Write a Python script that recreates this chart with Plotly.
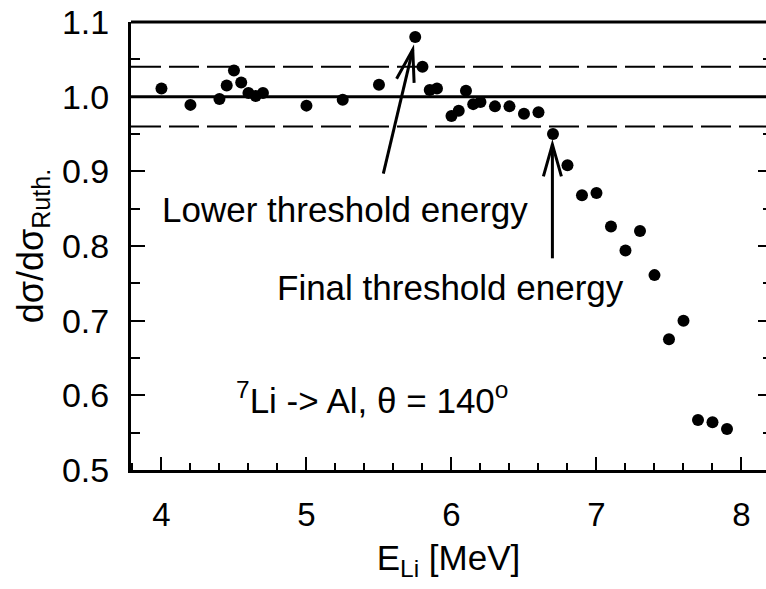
import math
import plotly.graph_objects as go

# ---- data ----
energy = [4.0, 4.2, 4.4, 4.45, 4.5, 4.55, 4.6, 4.65, 4.7, 5.0, 5.25, 5.5,
          5.75, 5.8, 5.85, 5.9, 6.0, 6.05, 6.1, 6.15, 6.2, 6.3, 6.4, 6.5,
          6.6, 6.7, 6.8, 6.9, 7.0, 7.1, 7.2, 7.3, 7.4, 7.5, 7.6, 7.7, 7.8, 7.9]
ratio = [1.011, 0.989, 0.997, 1.015, 1.035, 1.019, 1.005, 1.001, 1.005, 0.988,
         0.996, 1.016, 1.080, 1.040, 1.009, 1.011, 0.974, 0.981, 1.008, 0.990,
         0.993, 0.987, 0.987, 0.977, 0.979, 0.950, 0.908, 0.868, 0.871, 0.826,
         0.794, 0.820, 0.761, 0.675, 0.700, 0.567, 0.564, 0.555]
solid_levels = [1.0]
dashed_levels = [0.96, 1.04]

# arrows: (tail, tip) in data coordinates
lower_arrow = ((5.530, 0.897), (5.733, 1.063))
final_arrow = ((6.696, 0.7835), (6.696, 0.936))

X_RANGE = [3.79, 8.169]
Y_RANGE = [0.5, 1.1]
W, H = 766, 589
M = dict(l=131, r=0, t=22, b=119)
PW = W - M['l'] - M['r']
PH = H - M['t'] - M['b']
sx = PW / (X_RANGE[1] - X_RANGE[0])
sy = PH / (Y_RANGE[1] - Y_RANGE[0])

FONT = "Liberation Sans, Arial, Helvetica, sans-serif"

fig = go.Figure()
fig.add_trace(go.Scatter(x=energy, y=ratio, mode="markers",
                         marker=dict(size=12, color="black"),
                         showlegend=False, hoverinfo="x+y"))
# dummy trace for right-hand y axis (mirror ticks)
fig.add_trace(go.Scatter(x=[None], y=[None], yaxis="y2", showlegend=False,
                         hoverinfo="skip"))

shapes = []
for lv in solid_levels:
    shapes.append(dict(type="line", xref="paper", yref="y", x0=0, x1=1,
                       y0=lv, y1=lv, line=dict(color="black", width=3)))
for lv in dashed_levels:
    shapes.append(dict(type="line", xref="paper", yref="y", x0=0, x1=1,
                       y0=lv, y1=lv,
                       line=dict(color="black", width=2, dash="30px,8px")))
# top frame line
shapes.append(dict(type="line", xref="paper", yref="paper", x0=0, x1=1,
                   y0=1, y1=1, line=dict(color="black", width=3)))


def arrow_shapes(tail, tip, head_len=32, head_half=9, width=3):
    tx, ty = tail[0] * sx, tail[1] * sy
    hx, hy = tip[0] * sx, tip[1] * sy
    dx, dy = hx - tx, hy - ty
    L = math.hypot(dx, dy)
    ux, uy = dx / L, dy / L
    px, py = -uy, ux
    bx, by = hx - ux * head_len, hy - uy * head_len
    b1 = ((bx + px * head_half) / sx, (by + py * head_half) / sy)
    b2 = ((bx - px * head_half) / sx, (by - py * head_half) / sy)
    out = [dict(type="line", xref="x", yref="y", x0=tail[0], y0=tail[1],
                x1=tip[0], y1=tip[1], line=dict(color="black", width=width))]
    path = "M {},{} L {},{} L {},{}".format(b1[0], b1[1], tip[0], tip[1],
                                           b2[0], b2[1])
    out.append(dict(type="path", xref="x", yref="y", path=path,
                    line=dict(color="black", width=width)))
    return out


shapes += arrow_shapes(*lower_arrow)
shapes += arrow_shapes(*final_arrow)

annotations = [
    dict(x=5.266, y=0.849, xref="x", yref="y", text="Lower threshold energy",
         showarrow=False, xanchor="center", yanchor="middle",
         font=dict(size=35, color="black", family=FONT)),
    dict(x=5.99, y=0.745, xref="x", yref="y", text="Final threshold energy",
         showarrow=False, xanchor="center", yanchor="middle",
         font=dict(size=35, color="black", family=FONT)),
    dict(x=5.45, y=0.596, xref="x", yref="y",
         text="<sup>7</sup>Li -> Al, θ = 140<sup>o</sup>",
         showarrow=False, xanchor="center", yanchor="middle",
         font=dict(size=35, color="black", family=FONT)),
]

fig.update_layout(
    width=W, height=H, margin=M,
    paper_bgcolor="white", plot_bgcolor="white",
    font=dict(family=FONT, color="black", size=33),
    shapes=shapes, annotations=annotations,
    xaxis=dict(range=X_RANGE, showgrid=False, zeroline=False,
               showline=True, linecolor="black", linewidth=3,
               ticks="inside", ticklen=13, tickwidth=2, tickcolor="black",
               tick0=4, dtick=1,
               minor=dict(ticks="inside", ticklen=7, tickwidth=2,
                          tickcolor="black", dtick=0.2),
               tickfont=dict(size=33), ticklabelstandoff=13,
               title=dict(text="E<sub>Li</sub> [MeV]", font=dict(size=35),
                          standoff=14)),
    yaxis=dict(range=Y_RANGE, showgrid=False, zeroline=False,
               showline=True, linecolor="black", linewidth=3,
               ticks="inside", ticklen=14, tickwidth=2, tickcolor="black",
               tick0=0.5, dtick=0.1, tickformat=".1f",
               minor=dict(ticks="inside", ticklen=9, tickwidth=2,
                          tickcolor="black", dtick=0.05),
               tickfont=dict(size=34), ticklabelstandoff=12,
               title=dict(text="dσ/dσ<sub>Ruth.</sub>", font=dict(size=36),
                          standoff=8)),
    yaxis2=dict(range=Y_RANGE, overlaying="y", side="right",
                showgrid=False, zeroline=False, showline=False,
                showticklabels=False,
                ticks="inside", ticklen=8, tickwidth=2, tickcolor="black",
                tick0=0.5, dtick=0.1,
                minor=dict(ticks="inside", ticklen=3, tickwidth=2,
                           tickcolor="black", dtick=0.05)),
)

fig.write_html("out.html")
